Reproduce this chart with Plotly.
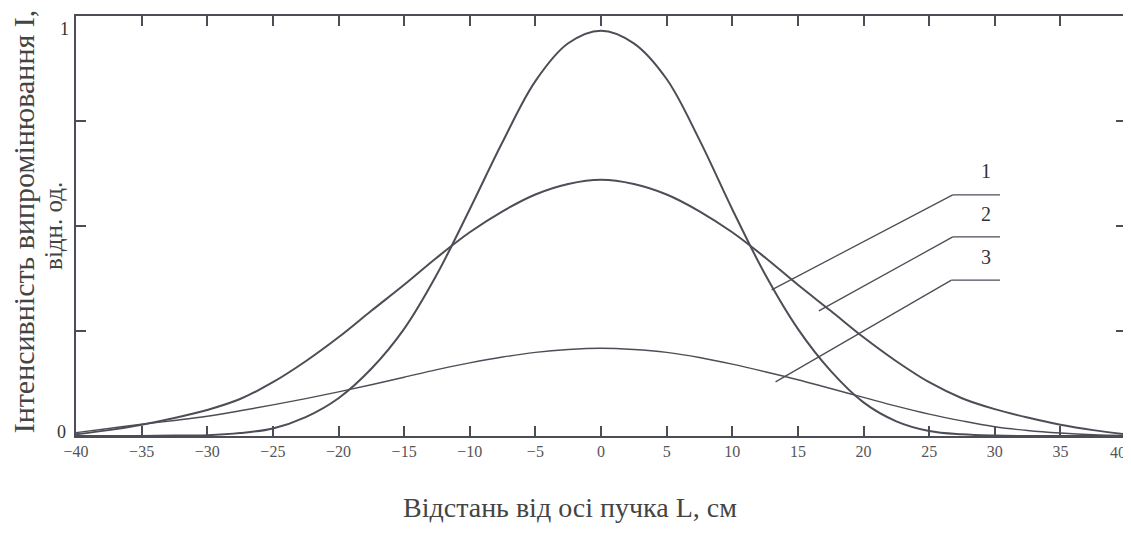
import plotly.graph_objects as go

# distance from beam axis, cm
L = [-40, -37.5, -35, -32.5, -30, -27.5, -25, -22.5, -20, -17.5, -15, -12.5, -10, -7.5, -5, -2.5,
     0, 2.5, 5, 7.5, 10, 12.5, 15, 17.5, 20, 22.5, 25, 27.5, 30, 32.5, 35, 37.5, 40]

curve1 = [0.0, 0.0, 0.0, 0.001, 0.002, 0.007, 0.018, 0.045, 0.09, 0.16, 0.255, 0.385, 0.54, 0.70, 0.845, 0.935,
          0.965, 0.935, 0.85, 0.705, 0.54, 0.385, 0.255, 0.155, 0.08, 0.035, 0.012, 0.004, 0.001, 0.0, 0.0, 0.0, 0.0]
curve2 = [0.004, 0.014, 0.027, 0.043, 0.062, 0.088, 0.128, 0.178, 0.235, 0.298, 0.36, 0.425, 0.485, 0.535, 0.575, 0.60,
          0.61, 0.60, 0.575, 0.535, 0.485, 0.425, 0.36, 0.298, 0.235, 0.178, 0.128, 0.09, 0.064, 0.044, 0.027, 0.014, 0.004]
curve3 = [0.008, 0.018, 0.028, 0.037, 0.047, 0.06, 0.074, 0.089, 0.105, 0.122, 0.14, 0.158, 0.174, 0.188, 0.199, 0.206,
          0.209, 0.206, 0.199, 0.187, 0.171, 0.153, 0.134, 0.113, 0.092, 0.071, 0.052, 0.036, 0.022, 0.013, 0.007, 0.003, 0.001]

x_ticks = list(range(-40, 41, 5))
x_ticktext = [("\u2212" + str(-v)) if v < 0 else str(v) for v in x_ticks]
y_ticks = [0, 0.25, 0.5, 0.75, 1]

curve_labels = ["1", "2", "3"]
# leader lines: start on curve, bend point, end (data coords)
leader_start = [(13.0, 0.348), (16.6, 0.298), (13.3, 0.129)]
leader_bend = [(26.8, 0.574), (26.8, 0.474), (26.7, 0.371)]
leader_end_x = 30.4
label_xy = [(29.3, 0.605), (29.3, 0.502), (29.3, 0.40)]

INK = "#4d4d57"
SERIF = "Liberation Serif, Times New Roman, serif"

fig = go.Figure()
for ys, w in [(curve1, 2.0), (curve2, 2.0), (curve3, 1.4)]:
    fig.add_trace(go.Scatter(x=L, y=ys, mode="lines", line=dict(color=INK, width=w, shape="spline", smoothing=1.0),
                             showlegend=False, hoverinfo="skip"))

for (sx, sy), (bx, by), lab, (lx, ly) in zip(leader_start, leader_bend, curve_labels, label_xy):
    fig.add_shape(type="line", x0=sx, y0=sy, x1=bx, y1=by, line=dict(color=INK, width=1.3))
    fig.add_shape(type="line", x0=bx, y0=by, x1=leader_end_x, y1=by, line=dict(color=INK, width=1.3))
    fig.add_annotation(x=lx, y=ly, text=lab, showarrow=False, font=dict(family=SERIF, size=20, color="#333"),
                       xanchor="center", yanchor="bottom", yshift=-2)

# y tick labels (0 and 1)
fig.add_annotation(xref="paper", yref="y", x=-0.014, y=0.01, text="0", showarrow=False, xanchor="center",
                   yanchor="middle", font=dict(family=SERIF, size=18, color="#333"))
fig.add_annotation(xref="paper", yref="y", x=-0.011, y=0.97, text="1", showarrow=False, xanchor="center",
                   yanchor="middle", font=dict(family=SERIF, size=18, color="#333"))
# last x tick label, kept inside the page edge
fig.add_annotation(x=x_ticks[-1], yref="paper", y=0, yshift=-16, xshift=2, text=x_ticktext[-1], showarrow=False,
                   xanchor="right", yanchor="middle", font=dict(family=SERIF, size=16, color="#555"))

# axis titles
fig.add_annotation(xref="paper", yref="paper", x=-0.05, y=0.51, text="Інтенсивність випромінювання I,",
                   showarrow=False, textangle=-90, xanchor="center", yanchor="middle",
                   font=dict(family=SERIF, size=30, color="#444"))
fig.add_annotation(xref="paper", yref="paper", x=-0.022, y=0.50, text="відн. од.",
                   showarrow=False, textangle=-90, xanchor="center", yanchor="middle",
                   font=dict(family=SERIF, size=25, color="#444"))
fig.add_annotation(xref="paper", yref="paper", x=0.47, y=-0.171, text="Відстань від осі пучка L, см",
                   showarrow=False, xanchor="center", yanchor="middle",
                   font=dict(family=SERIF, size=28, color="#444"))

fig.update_xaxes(range=[-40, 40], tickvals=x_ticks, ticktext=x_ticktext, ticks="inside", ticklen=10,
                 tickwidth=1.5, tickcolor=INK, showline=True, linecolor=INK, linewidth=2, mirror="ticks",
                 showgrid=False, zeroline=False, tickfont=dict(family=SERIF, size=16, color="#555"))
fig.update_yaxes(range=[0, 1], tickvals=y_ticks, ticks="inside", ticklen=10, tickwidth=1.5, tickcolor=INK,
                 showline=True, linecolor=INK, linewidth=2, mirror="ticks", showgrid=False, zeroline=False,
                 showticklabels=False)

# page body has an 8px margin, so the figure is sized to fit the window
fig.update_layout(width=1123, height=529, margin=dict(l=68, r=3, t=8, b=101),
                  paper_bgcolor="white", plot_bgcolor="white")

fig.write_html("out.html")
